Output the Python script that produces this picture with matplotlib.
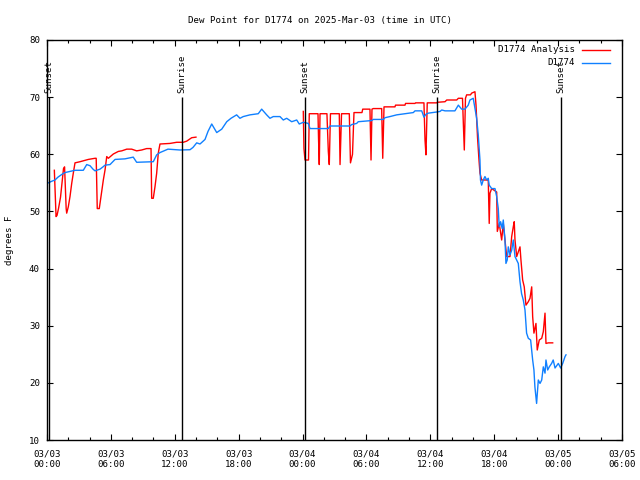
import matplotlib
matplotlib.use("Agg")
import matplotlib.pyplot as plt
import matplotlib.dates as mdates
import numpy as np
import pandas as pd

start = pd.Timestamp("2025-03-03 00:00")

# hours after 03/03 00:00 UTC, dew point in F
blue_h = [0.12, 0.47, 0.75, 1.03, 1.41, 1.69, 2.16, 2.63, 3.41, 3.73, 4.04, 4.32, 4.51, 4.98,
          5.26, 5.45, 5.92, 6.39, 7.32, 8.10, 8.42, 9.98, 10.30, 10.61, 11.36, 12.49, 13.43,
          13.71, 14.06, 14.37, 14.84, 15.12, 15.47, 15.94, 16.41, 16.88, 17.28, 17.81, 18.12,
          18.43, 19.06, 19.84, 20.16, 20.63, 20.94, 21.25, 21.88, 22.19, 22.51, 22.98, 23.45,
          23.69, 24.07, 24.54, 24.70, 26.42, 26.58, 28.45, 28.61, 29.08, 29.23, 30.49, 30.64,
          31.58, 31.74, 32.21, 32.84, 34.40, 34.56, 35.19, 35.40, 35.59, 35.81, 36.60, 36.91,
          37.07, 37.38, 38.31, 38.63, 38.94, 39.25, 39.56, 39.72, 40.03, 40.35, 40.50, 40.66,
          40.71, 40.82, 40.97, 41.13, 41.29, 41.44, 41.53, 41.76, 42.07, 42.23, 42.38, 42.47,
          42.60, 42.75, 42.85, 43.01, 43.10, 43.22, 43.32, 43.48, 43.64, 43.79, 43.95, 44.11,
          44.26, 44.42, 44.57, 44.73, 44.89, 45.04, 45.20, 45.42, 45.61, 45.73, 45.82, 45.98,
          46.14, 46.30, 46.46, 46.61, 46.77, 46.86, 47.02, 47.17, 47.39, 47.54, 47.71, 48.02,
          48.24, 48.43, 48.65, 48.74]
blue_v = [55.0, 55.3, 55.5, 56.0, 56.5, 56.8, 57.0, 57.2, 57.2, 58.2, 58.0, 57.4, 57.1, 57.4,
          57.8, 58.1, 58.2, 59.1, 59.2, 59.5, 58.6, 58.7, 59.9, 60.3, 60.9, 60.75, 60.8,
          61.2, 62.0, 61.8, 62.6, 64.0, 65.3, 63.8, 64.4, 65.7, 66.3, 66.9, 66.3,
          66.6, 66.9, 67.1, 67.9, 66.9, 66.3, 66.6, 66.6, 66.0, 66.3, 65.7, 66.0,
          65.3, 65.6, 65.4, 64.5, 64.5, 64.95, 64.95, 65.2, 65.4, 65.7, 65.9, 66.1,
          66.1, 66.4, 66.6, 66.9, 67.3, 67.6, 67.6, 66.5, 67.0, 67.2, 67.4, 67.5,
          67.75, 67.6, 67.6, 68.6, 67.9, 67.9, 68.6, 69.5, 69.8, 66.3, 63.4, 59.0,
          55.5, 54.6, 55.5, 56.1, 55.5, 55.8, 54.6, 54.0, 54.0, 52.6, 50.5, 47.3,
          48.2, 47.0, 48.5, 45.0, 40.9, 41.5, 43.8, 42.4, 43.2, 45.0, 42.1, 41.5,
          40.9, 37.7, 35.6, 34.5, 32.75, 28.7, 27.8, 27.5, 24.0, 22.25, 19.3, 16.4,
          20.5, 19.9, 20.5, 22.8, 21.7, 24.0, 22.25, 22.8, 23.4, 24.0, 22.6, 23.4,
          22.6, 23.4, 24.6, 24.9]

red_h1 = [0.69, 0.85, 0.94, 1.08, 1.27, 1.41, 1.55, 1.65, 1.80, 1.85, 2.00, 2.16, 2.32, 2.47,
          2.63, 3.10, 3.88, 4.51, 4.62, 4.72, 4.91, 5.07, 5.29, 5.45, 5.61, 5.76, 6.23, 6.70,
          7.02, 7.49, 7.95, 8.42, 8.89, 9.36, 9.77, 9.83, 9.98, 10.14, 10.30, 10.45, 10.61,
          11.55, 12.18, 12.80, 13.12, 13.59, 13.99]
red_v1 = [57.2, 49.1, 49.3, 50.5, 52.5, 55.0, 57.5, 57.8, 50.5, 49.7, 50.8, 52.6, 54.9, 56.7,
          58.5, 58.7, 59.1, 59.3, 59.3, 50.5, 50.5, 52.6, 55.5, 57.25, 59.6, 59.3, 60.05, 60.5,
          60.6, 60.9, 60.9, 60.6, 60.75, 61.0, 61.0, 52.3, 52.3, 54.3, 56.7, 60.2, 61.8,
          61.9, 62.1, 62.1, 62.3, 62.9, 63.0]

red_h2 = [24.07, 24.13, 24.23, 24.56, 24.63, 25.45, 25.50, 25.57, 25.64, 26.29, 26.42, 26.51,
          26.62, 27.45, 27.52, 27.66, 28.39, 28.50, 28.69, 28.83, 29.58, 29.65, 30.33, 30.43,
          30.52, 30.64, 31.43, 31.53, 31.65, 32.68, 32.73, 33.62, 33.67, 34.56, 34.61, 35.40,
          35.50, 35.59, 35.71, 36.60, 36.65, 37.38, 37.54, 38.48, 38.63, 39.02, 39.10, 39.19,
          39.30, 39.41, 39.77, 39.88, 40.19, 40.29, 40.43, 40.57, 40.66, 40.82, 41.44, 41.53,
          41.60, 41.76, 42.23, 42.29, 42.47, 42.70, 42.85, 43.01, 43.17, 43.48, 43.64, 43.79,
          43.88, 43.95, 44.11, 44.42, 44.51, 44.67, 44.82, 44.98, 45.20, 45.36, 45.52, 45.61,
          45.73, 45.92, 46.04, 46.23, 46.46, 46.61, 46.77, 46.86, 47.08, 47.49]
red_v2 = [67.5, 61.0, 59.0, 59.0, 67.1, 67.1, 62.8, 58.2, 67.1, 67.1, 60.5, 58.2,
          67.1, 67.1, 58.2, 67.1, 67.1, 58.5, 60.0, 67.3, 67.3, 67.9, 67.9, 59.0,
          67.9, 68.0, 68.0, 59.3, 68.3, 68.3, 68.6, 68.6, 68.9, 68.9, 69.0, 69.0,
          62.5, 59.9, 69.0, 69.0, 69.1, 69.2, 69.5, 69.5, 69.8, 69.8, 65.4, 60.75,
          69.8, 70.4, 70.4, 70.7, 70.95, 68.6, 63.0, 59.0, 56.7, 55.5, 55.5, 47.9,
          53.2, 54.0, 53.4, 46.5, 47.9, 45.0, 47.9, 45.0, 42.1, 42.1, 45.6, 47.3,
          48.2, 45.0, 42.1, 43.8, 41.5, 38.0, 36.8, 33.6, 34.2, 34.8, 36.8, 31.6,
          28.7, 30.4, 25.75, 27.5, 27.8, 28.95, 32.2, 26.9, 27.0, 27.0]

sun_h = [0.2, 12.7, 24.2, 36.65, 48.25]
sun_lbl = ["Sunset", "Sunrise", "Sunset", "Sunrise", "Sunset"]


def to_time(hours):
    return start + pd.to_timedelta(np.array(hours), unit="h")


plt.rcParams["font.family"] = "DejaVu Sans Mono"
plt.rcParams["font.size"] = 6.6

fig = plt.figure(figsize=(6.4, 4.8), dpi=100)
ax = fig.add_axes([47 / 640, 40 / 480, 575 / 640, 400 / 480])

red = "#ff0000"
blue = "#1080ff"
ax.plot(to_time(red_h1), red_v1, color=red, lw=1)
ax.plot(to_time(red_h2), red_v2, color=red, lw=1)
ax.plot(to_time(blue_h), blue_v, color=blue, lw=1)

for h, lbl in zip(sun_h, sun_lbl):
    t = to_time([h])[0]
    ax.vlines(t, 10, 70, color="black", lw=1)
    ax.text(t, 70.8, lbl, rotation=90, ha="center", va="bottom")

ax.set_xlim(start, start + pd.Timedelta(hours=54))
ax.set_ylim(10, 80)
ax.set_yticks(range(10, 81, 10))
ax.xaxis.set_major_locator(mdates.HourLocator(byhour=[0, 6, 12, 18]))
ax.xaxis.set_minor_locator(mdates.HourLocator(interval=2))
ax.xaxis.set_major_formatter(mdates.DateFormatter("%m/%d\n%H:%M"))

ax.tick_params(which="both", direction="in", top=True, right=True, width=0.8)
ax.tick_params(which="major", length=4)
ax.tick_params(which="minor", length=2)
ax.tick_params(axis="x", which="major", pad=7)
ax.tick_params(axis="y", pad=5)
for s in ax.spines.values():
    s.set_linewidth(1)

# gnuplot style key: right-aligned text, sample line to its right
for i, (name, col) in enumerate([("D1774 Analysis", red), ("D1774", blue)]):
    yk = 0.975 - i * 0.0325
    ax.text(0.918, yk, name, transform=ax.transAxes, ha="right", va="center")
    ax.plot([0.931, 0.979], [yk, yk], color=col, lw=1, transform=ax.transAxes)

fig.text(0.5, 1 - 20 / 480, "Dew Point for D1774 on 2025-Mar-03 (time in UTC)", ha="center", va="center")
fig.text(10 / 640, 0.5, "degrees F", rotation=90, ha="center", va="center")

fig.savefig("out.png", dpi=100)
